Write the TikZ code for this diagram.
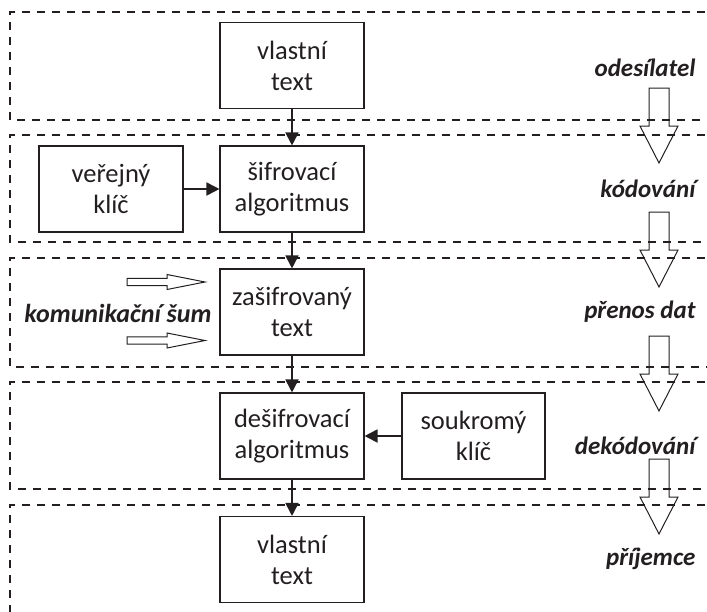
\documentclass[tikz,border=0pt]{standalone}
\usepackage{fontspec}
\setmainfont{Carlito}
\usetikzlibrary{arrows.meta}
\definecolor{ink}{HTML}{231F20}
\tikzset{
  stage/.style={draw=ink, line width=1.7pt, dash pattern=on 8pt off 7pt},
  box/.style={draw=ink, line width=1.1pt, rectangle, inner sep=0pt,
    minimum width=144pt, minimum height=86pt, align=center, text=ink,
    font=\fontsize{26.5}{31}\selectfont},
  flow/.style={draw=ink, line width=1.8pt, -{Triangle[length=13pt,width=13pt]}},
  side/.style={text=ink, font=\fontsize{25}{31}\selectfont\bfseries\itshape},
  hollow/.style={draw=ink, line width=1pt, line join=miter},
  pics/bigdown/.style={code={
    \draw[hollow] (-10,0) -- (10,0) -- (10,38) -- (19,38) -- (0,75)
      -- (-19,38) -- (-10,38) -- cycle;}},
  pics/noise/.style={code={
    \draw[hollow] (0,-3.7) -- (40,-3.7) -- (40,-7.5) -- (78,0) -- (40,7.5)
      -- (40,3.7) -- (0,3.7) -- cycle;}},
}
\begin{document}
\begin{tikzpicture}[x=1pt, y=-1pt]
\useasboundingbox (0,0) rectangle (707,611);
\clip (0,0) rectangle (707,611);

% dashed stage bands, open to the right
\draw[stage] (720,12) -- (10,12) -- (10,120) -- (720,120);
\draw[stage] (720,135) -- (10,135) -- (10,242) -- (720,242);
\draw[stage] (720,258) -- (10,258) -- (10,367) -- (720,367);
\draw[stage] (720,382) -- (10,382) -- (10,489) -- (720,489);
\draw[stage] (720,505) -- (10,505) -- (10,630);

% process boxes
\node[box] (plain1) at (292,65.5) {vlastní\\text};
\node[box] (pubkey) at (111,189) {veřejný\\klíč};
\node[box] (encrypt) at (292,189) {šifrovací\\algoritmus};
\node[box] (cipher) at (292,312) {zašifrovaný\\text};
\node[box] (decrypt) at (292,436) {dešifrovací\\algoritmus};
\node[box, minimum width=143pt] (privkey) at (473.5,436) {soukromý\\klíč};
\node[box] (plain2) at (292,559.5) {vlastní\\text};

% data flow
\draw[flow] (plain1) -- (encrypt);
\draw[flow] (pubkey) -- (encrypt);
\draw[flow] (encrypt) -- (cipher);
\draw[flow] (cipher) -- (decrypt);
\draw[flow] (privkey) -- (decrypt);
\draw[flow] (decrypt) -- (plain2);

% channel noise
\node[side, anchor=base, font=\fontsize{26}{31}\selectfont\bfseries\itshape] (noise) at (118,322) {komunikační šum};
\pic at (127,282) {noise};
\pic at (127,340.5) {noise};

% stage labels with transition arrows
\node[side, anchor=base east] (lsend) at (699,76) {odesílatel};
\node[side, anchor=base east] (lcode) at (699,197.5) {kódování};
\node[side, anchor=base east] (ltrans) at (699,318) {přenos dat};
\node[side, anchor=base east] (ldecode) at (699,454) {dekódování};
\node[side, anchor=base east] (lrecv) at (699,565) {příjemce};
\pic at (659,88) {bigdown};
\pic at (659,212) {bigdown};
\pic at (659,336) {bigdown};
\pic at (659,459) {bigdown};
\end{tikzpicture}
\end{document}
